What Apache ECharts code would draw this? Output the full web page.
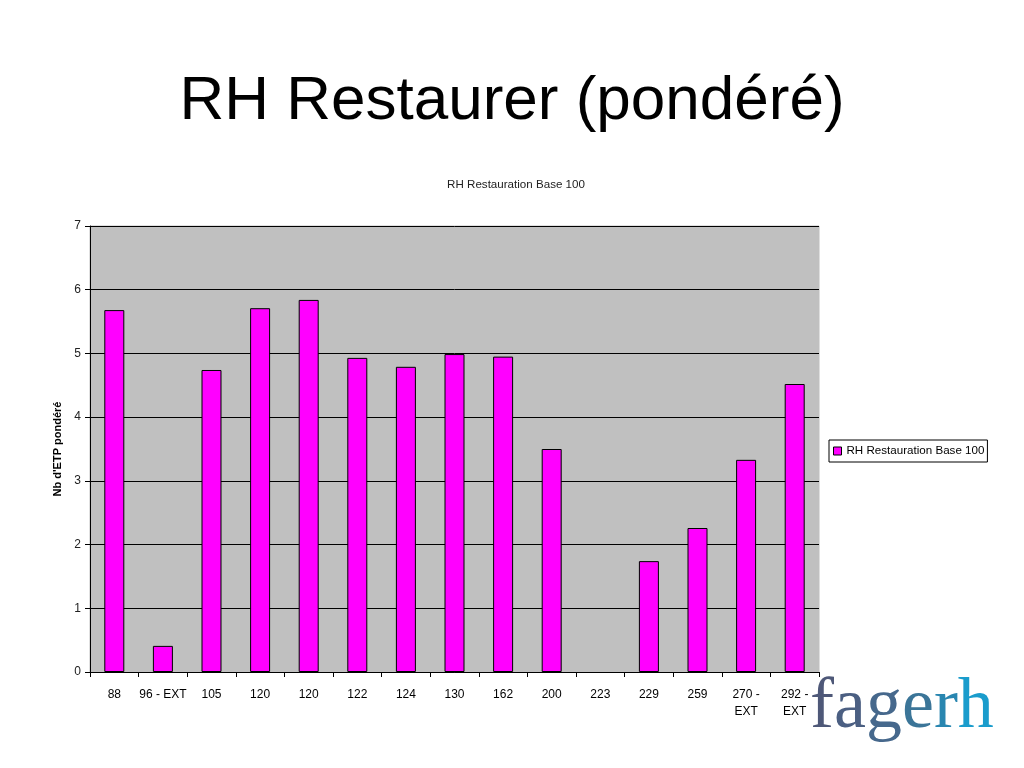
<!DOCTYPE html>
<html><head><meta charset="utf-8">
<script src="https://cdn.jsdelivr.net/npm/echarts@6/dist/echarts.min.js"></script>
<style>html,body{margin:0;padding:0;background:#fff}#c{width:1024px;height:768px}</style>
</head><body><div id="c"></div>
<script>
const categories = ['88','96 - EXT','105','120','120','122','124','130','162','200','223','229','259','270 -\nEXT','292 -\nEXT'];
const values = [5.68,0.41,4.74,5.71,5.84,4.93,4.79,4.99,4.95,3.50,0,1.74,2.26,3.33,4.52];
const seriesName = 'RH Restauration Base 100';
const chart = echarts.init(document.getElementById('c'));
const logoColors = {a:'#4e5878',b:'#4b5f82',c:'#46688c',d:'#3b7598',e:'#2986b0',f:'#1a9ccc'};
const lf = '72px "Liberation Serif"';
chart.setOption({
  animation:false,
  backgroundColor:'#fff',
  title:[
    {text:'RH Restaurer (pondéré)',left:'center',top:66,textStyle:{fontFamily:'Liberation Sans',fontSize:62,fontWeight:'normal',color:'#000'}},
    {text:'RH Restauration Base 100',left:511,textAlign:'center',top:174,textStyle:{fontFamily:'Liberation Sans',fontSize:11.6,fontWeight:'normal',color:'#222'}}
  ],
  legend:{data:[{name:seriesName,icon:'rect'}],orient:'vertical',left:829,top:440,itemWidth:8,itemHeight:8,itemGap:4,padding:[5,3,5,4],
    borderColor:'#000',borderWidth:1,backgroundColor:'#fff',
    textStyle:{fontFamily:'Liberation Sans',fontSize:11.6,color:'#000'},
    itemStyle:{borderColor:'#000',borderWidth:1}},
  grid:{left:90,right:205,top:226,bottom:96,show:true,backgroundColor:'#c0c0c0',borderColor:'#c0c0c0',borderWidth:1},
  xAxis:{type:'category',data:categories,
    axisLine:{lineStyle:{color:'#000',width:1}},
    axisTick:{show:true,length:5,lineStyle:{color:'#000'}},
    axisLabel:{fontFamily:'Liberation Sans',fontSize:12,color:'#000',margin:14,lineHeight:17,interval:0}},
  yAxis:{type:'value',min:0,max:7,interval:1,
    name:"Nb d'ETP pondéré",nameLocation:'middle',nameGap:24,
    nameTextStyle:{fontFamily:'Liberation Sans',fontSize:11,fontWeight:'bold',color:'#000'},
    axisLine:{show:true,lineStyle:{color:'#000',width:1}},
    axisTick:{show:true,length:5,lineStyle:{color:'#000'}},
    splitLine:{lineStyle:{color:'#000',width:1}},
    axisLabel:{fontFamily:'Liberation Sans',fontSize:12,color:'#222',margin:9}},
  series:[{name:seriesName,type:'bar',barWidth:20,
    data:values.map(v => v === 0 ? {value:v,itemStyle:{borderWidth:0}} : v),
    itemStyle:{color:'#ff00ff',borderColor:'#000',borderWidth:1}}],
  graphic:[{type:'text',left:810,top:672,z:10,style:{text:'{a|f}{b|a}{c|g}{d|e}{e|r}{f|h}',font:lf,
    rich:{a:{fill:logoColors.a,font:lf},b:{fill:logoColors.b,font:lf},c:{fill:logoColors.c,font:lf},
      d:{fill:logoColors.d,font:lf},e:{fill:logoColors.e,font:lf},f:{fill:logoColors.f,font:lf}}}}]
});
</script></body></html>
